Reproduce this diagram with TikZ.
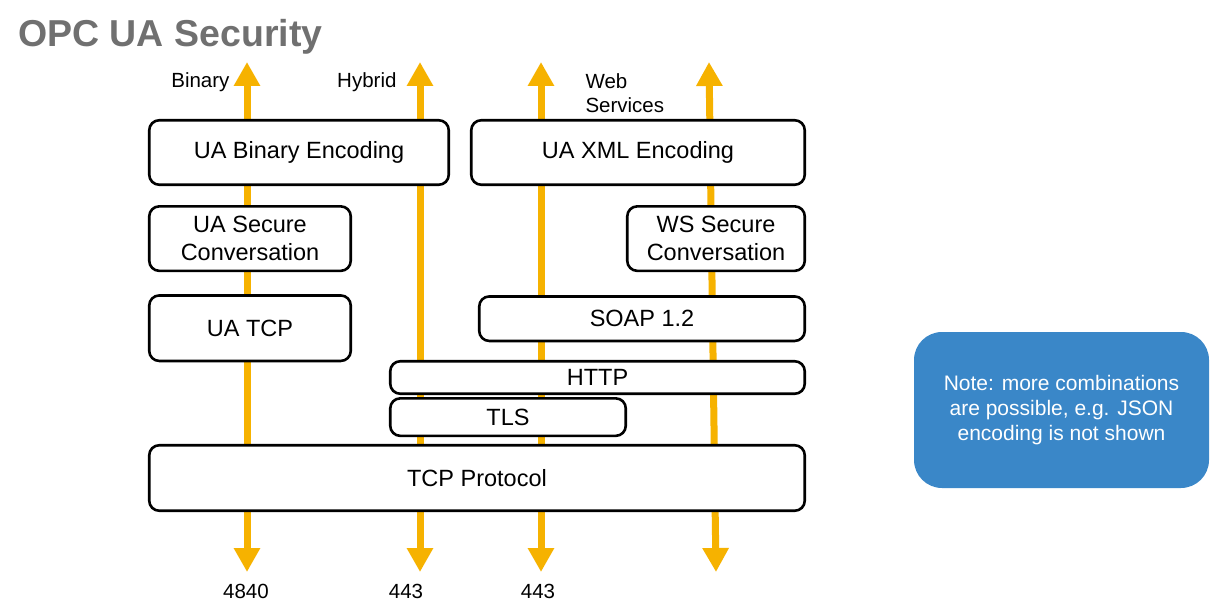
\documentclass[tikz,border=0pt]{standalone}
\usepackage{fontspec}
\setmainfont{Liberation Sans}
\usepackage{xcolor}
\usepackage{tikz}
\usetikzlibrary{arrows.meta,positioning}
\definecolor{uaorange}{RGB}{246,178,0}
\definecolor{noteblue}{RGB}{58,135,200}
\definecolor{titlegray}{RGB}{112,112,112}

\begin{document}
\begin{tikzpicture}[x=1pt, y=-1pt, font=\fontsize{20.5}{24}\selectfont]
\tikzstyle{layer}=[draw, line width=2.6pt, rounded corners=10pt, fill=white, align=center, inner sep=0pt, font=\fontsize{23.5}{28}\selectfont]
\tikzstyle{port}=[uaorange, line width=7pt, {Triangle[width=25pt,length=24pt]}-{Triangle[width=25pt,length=24pt]}]
\tikzstyle{note}=[fill=noteblue, rounded corners=28pt, text=white, align=center, inner sep=0pt, font=\fontsize{21}{25}\selectfont]

\useasboundingbox (0,0) rectangle (1232,604);

\node[anchor=base west, inner sep=0pt, text=titlegray, font=\fontsize{37.5}{40}\selectfont\bfseries] (title) at (18,47) {OPC UA Security};

% transport mappings, drawn behind the layers
\coordinate (bin top) at (247,62);
\coordinate (bin bot) at (247,572);
\coordinate (hyb top) at (420,62);
\coordinate (hyb bot) at (420,572);
\coordinate (ws top) at (541,62);
\coordinate (ws bot) at (541,572);
\coordinate (xml top) at (709,62);
\coordinate (xml bot) at (716,572);

\draw[port] (bin bot) -- (bin top);
\draw[port] (hyb bot) -- (hyb top);
\draw[port] (ws bot) -- (ws top);
\draw[port] (xml bot) -- (xml top);

\node[anchor=east] (binlbl) at (233,82) {Binary};
\node[anchor=east] (hyblbl) at (400,82) {Hybrid};
\node[anchor=west, align=left] (wslbl) at (582,93) {Web\\Services};

\node (p4840) at (246,591) {4840};
\node (p443a) at (406,591) {443};
\node (p443b) at (538,591) {443};

% protocol layers
\node[layer, minimum width=299.5pt, minimum height=64.5pt] (uabin) at (299,152.5) {UA Binary Encoding};
\node[layer, minimum width=333.5pt, minimum height=64.5pt] (uaxml) at (638,152.5) {UA XML Encoding};
\node[layer, minimum width=201.5pt, minimum height=64.5pt, below=19pt of uabin.south west, anchor=north west] (uasc) {UA Secure\\Conversation};
\node[layer, minimum width=177.5pt, minimum height=64.5pt, below=19pt of uaxml.south east, anchor=north east] (wssc) {WS Secure\\Conversation};
\node[layer, minimum width=201.5pt, minimum height=65.5pt, below=22pt of uasc.south west, anchor=north west] (uatcp) {UA TCP};
\node[layer, minimum width=325.5pt, minimum height=44.5pt, below=23pt of wssc.south east, anchor=north east] (soap) {SOAP 1.2};
\node[layer, minimum width=414.5pt, minimum height=32.5pt] (http) at (597.5,377.5) {HTTP};
\node[layer, minimum width=235.5pt, minimum height=37.5pt, below=2pt of http.south west, anchor=north west] (tls) {TLS};
\node[layer, minimum width=655.5pt, minimum height=65.5pt] (tcp) at (477,478) {TCP Protocol};

\node[note, minimum width=295pt, minimum height=156pt] (note) at (1061.5,410) {Note: more combinations\\are possible, e.g. JSON\\encoding is not shown};
\end{tikzpicture}
\end{document}
